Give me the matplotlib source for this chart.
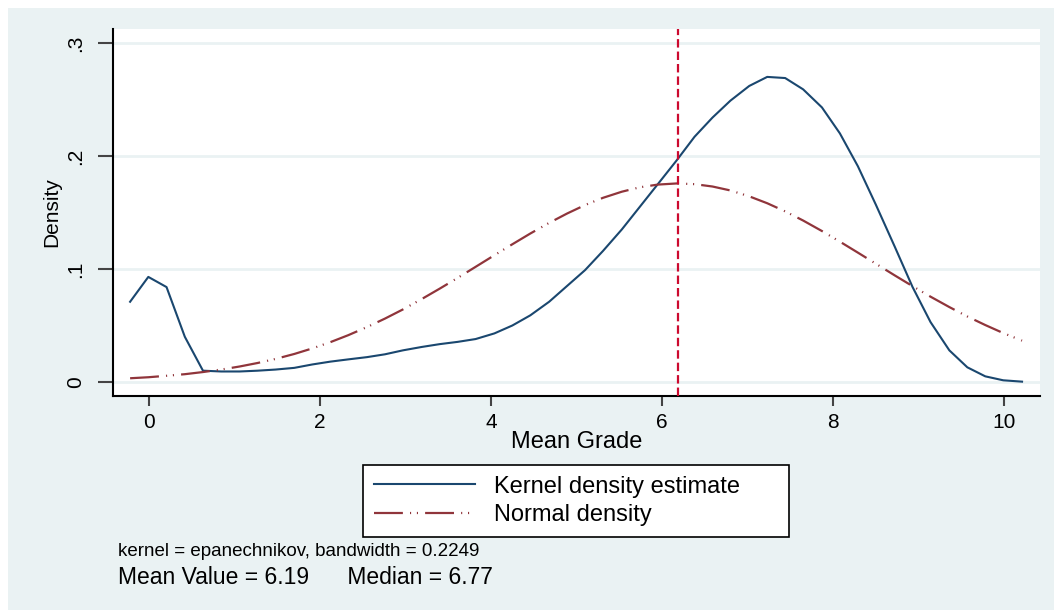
import matplotlib
matplotlib.use("Agg")
import matplotlib.pyplot as plt
from matplotlib.patches import Rectangle

plt.rcParams['font.family'] = ['Liberation Sans', 'DejaVu Sans']

# Grid of evaluation points (Mean Grade)
grade = [-0.22, -0.007, 0.206, 0.42, 0.632, 0.845, 1.06, 1.27, 1.48, 1.70,
         1.91, 2.12, 2.33, 2.55, 2.76, 2.97, 3.19, 3.40, 3.61, 3.82,
         4.04, 4.25, 4.46, 4.68, 4.89, 5.10, 5.31, 5.53, 5.74, 5.95,
         6.17, 6.38, 6.59, 6.80, 7.02, 7.23, 7.44, 7.65, 7.87, 8.08,
         8.29, 8.50, 8.72, 8.93, 9.14, 9.36, 9.57, 9.78, 9.99, 10.21]

# Kernel density estimate
kde = [0.071, 0.093, 0.084, 0.040, 0.010, 0.0093, 0.0093, 0.0100, 0.011, 0.0125,
       0.0155, 0.018, 0.020, 0.022, 0.0245, 0.028, 0.031, 0.0335, 0.0355, 0.038,
       0.043, 0.050, 0.059, 0.071, 0.085, 0.099, 0.116, 0.135, 0.155, 0.175,
       0.196, 0.217, 0.234, 0.249, 0.262, 0.270, 0.269, 0.259, 0.243, 0.220,
       0.191, 0.157, 0.120, 0.084, 0.053, 0.028, 0.013, 0.005, 0.0015, 0.0003]

# Normal density
normal = [0.0033, 0.0042, 0.0055, 0.0069, 0.0088, 0.0110, 0.0137, 0.0168, 0.0204, 0.0248,
          0.0297, 0.0352, 0.0414, 0.0486, 0.0561, 0.0642, 0.0734, 0.0826, 0.0921, 0.1019,
          0.1122, 0.1219, 0.1314, 0.1408, 0.1491, 0.1566, 0.1630, 0.1684, 0.1723, 0.1747,
          0.1757, 0.1751, 0.1730, 0.1695, 0.1643, 0.1582, 0.1510, 0.1429, 0.1336, 0.1242,
          0.1145, 0.1047, 0.0944, 0.0848, 0.0755, 0.0663, 0.0580, 0.0504, 0.0433, 0.0366]

mean_value = 6.19
median_value = 6.77
bandwidth = 0.2249

x_ticks = [0, 2, 4, 6, 8, 10]
y_ticks = [0, 0.1, 0.2, 0.3]
y_tick_labels = ['0', '.1', '.2', '.3']

bg = '#EAF2F3'
navy = '#1A476F'
maroon = '#90353B'

W, H = 1054, 610
fig = plt.figure(figsize=(W / 100, H / 100), dpi=100)
fig.patch.set_facecolor('white')
fig.patches.append(Rectangle((8 / W, 0), 1, 1 - 8 / H, transform=fig.transFigure,
                             facecolor=bg, edgecolor='none', zorder=-1))

ax = fig.add_axes([113 / W, 1 - 396 / H, 927 / W, 367 / H])
ax.set_facecolor('white')

for yv in y_ticks:
    ax.axhline(yv, color=bg, lw=2, zorder=1)

ax.plot(grade, kde, color=navy, lw=1.5, zorder=3, label='Kernel density estimate')
ax.plot(grade, normal, color=maroon, lw=1.6, zorder=3,
        linestyle=(0, (13, 3.2, 0.5, 2.6, 0.5, 3.2)), label='Normal density')
ax.axvline(mean_value, color='#CC0A2F', lw=1.6, linestyle=(0, (3.8, 1.8)), zorder=4)

ax.set_xlim(-0.42, 10.42)
ax.set_ylim(-0.0124, 0.3124)
ax.set_xticks(x_ticks)
ax.set_yticks(y_ticks)
ax.set_yticklabels(y_tick_labels, rotation=90, va='center')

for s in ['top', 'right']:
    ax.spines[s].set_visible(False)
for s in ['left', 'bottom']:
    ax.spines[s].set_linewidth(1.5)
    ax.spines[s].set_color('black')

ax.tick_params(axis='y', length=11, width=1.5, color='#444444', labelsize=15, pad=9)
ax.tick_params(axis='x', length=7, width=1.5, color='#444444', labelsize=15, pad=5)

ax.set_xlabel('Mean Grade', fontsize=17)
ax.xaxis.set_label_coords(0.5, -(442 - 396) / 367)
ax.xaxis.label.set_va('center')
ax.set_ylabel('Density', fontsize=15)
ax.yaxis.set_label_coords(-(113 - 52) / 927, 0.5)
ax.yaxis.label.set_va('center')

leg = fig.legend(loc='upper left', mode='expand',
                 bbox_to_anchor=(363 / W, 1 - 533 / H, 426 / W, 68 / H),
                 frameon=True, fancybox=False, fontsize=17, handlelength=4.3,
                 borderpad=0.45, labelspacing=0.28, handletextpad=0.8, borderaxespad=0)
leg.get_frame().set_edgecolor('black')
leg.get_frame().set_linewidth(1.2)
leg.get_frame().set_facecolor('white')
leg.get_frame().set_alpha(1)

fig.text(118 / W, 1 - 551 / H,
         'kernel = epanechnikov, bandwidth = %.4f' % bandwidth,
         fontsize=13.5, va='center', ha='left')
fig.text(118 / W, 1 - 577 / H,
         'Mean Value = %.2f      Median = %.2f' % (mean_value, median_value),
         fontsize=16.5, va='center', ha='left')

fig.savefig('out.png', dpi=100, facecolor=fig.get_facecolor())
